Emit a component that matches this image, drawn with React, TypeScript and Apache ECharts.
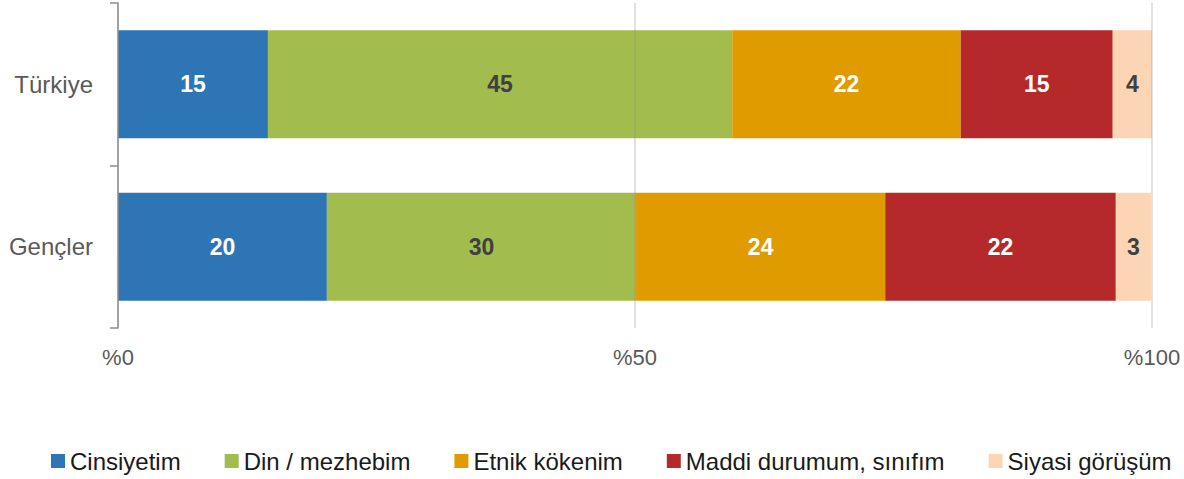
import React, { useEffect, useRef } from "react";
import * as echarts from "echarts";

const categories = ["Türkiye", "Gençler"];
const seriesNames = ["Cinsiyetim", "Din / mezhebim", "Etnik kökenim", "Maddi durumum, sınıfım", "Siyasi görüşüm"];
const cinsiyetim = [14.5, 20.2];
const dinMezhebim = [44.9, 29.9];
const etnikKokenim = [22.1, 24.1];
const maddiDurumum = [14.7, 22.3];
const siyasiGorusum = [3.8, 3.4];
const colors = ["#2E75B6", "#A2BC4E", "#E09B00", "#B5292A", "#FCD5B5"];
const labelColors = ["#ffffff", "#404040", "#ffffff", "#ffffff", "#404040"];
const xTicks = [0, 50, 100];

const FONT = "'Liberation Sans', Arial, sans-serif";

export default function App() {
  const ref = useRef<HTMLDivElement>(null);
  useEffect(() => {
    if (!ref.current) return;
    const chart = echarts.init(ref.current, undefined, { renderer: "svg" });
    const values = [cinsiyetim, dinMezhebim, etnikKokenim, maddiDurumum, siyasiGorusum];
    chart.setOption({
      animation: false,
      textStyle: { fontFamily: FONT },
      grid: { left: 118, right: 32, top: 3, bottom: 151, containLabel: false },
      legend: {
        left: 51,
        top: 449,
        padding: 0,
        itemWidth: 14,
        itemHeight: 14,
        itemGap: 44,
        icon: "rect",
        textStyle: { fontSize: 24, color: "#1a1a1a", fontFamily: FONT },
        data: seriesNames,
      },
      xAxis: {
        type: "value",
        min: 0,
        max: 100,
        interval: 50,
        z: 5,
        axisLine: { show: false },
        axisTick: { show: false },
        splitLine: { show: true, lineStyle: { color: "rgba(140,140,140,0.35)", width: 1.5 } },
        axisLabel: {
          margin: 18,
          fontSize: 22,
          color: "#595959",
          formatter: (v: number) => (xTicks.includes(v) ? "%" + v : ""),
        },
      },
      yAxis: {
        type: "category",
        data: categories,
        inverse: true,
        z: 5,
        axisLine: { show: true, lineStyle: { color: "#8c8c8c", width: 1.5 } },
        axisTick: { show: true, length: 8, lineStyle: { color: "#8c8c8c", width: 1.5 } },
        axisLabel: { margin: 25, fontSize: 24, color: "#595959" },
      },
      series: seriesNames.map((name, i) => ({
        name,
        type: "bar",
        stack: "total",
        barWidth: 108,
        data: values[i],
        itemStyle: { color: colors[i] },
        label: {
          show: true,
          position: "inside",
          fontSize: 23,
          fontWeight: "bold",
          fontFamily: FONT,
          color: labelColors[i],
          formatter: (p: any) => String(Math.round(p.value)),
        },
      })),
    });
    return () => chart.dispose();
  }, []);
  return <div ref={ref} style={{ width: 1184, height: 479, position: "absolute", left: 0, top: 0 }} />;
}
